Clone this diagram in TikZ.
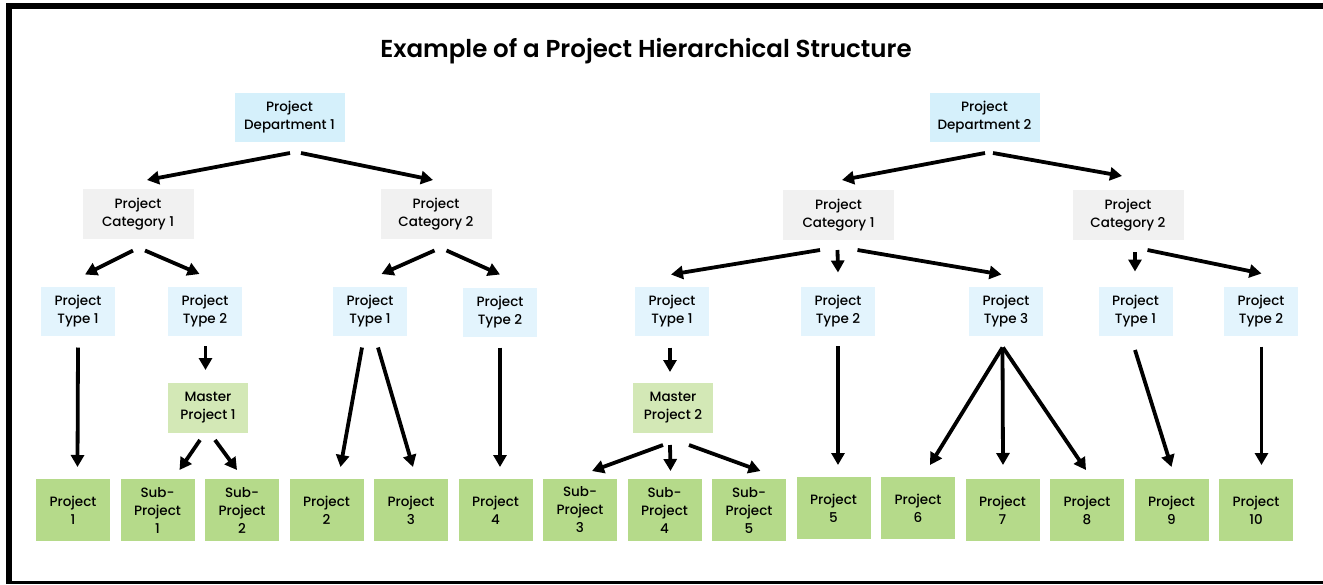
\documentclass[tikz,border=0pt]{standalone}
\usepackage{fontspec}
\setmainfont{Poppins Medium}
\newfontfamily\titlefont{Poppins SemiBold}
\usetikzlibrary{arrows.meta,positioning}
\definecolor{deptblue}{HTML}{D5F0FB}
\definecolor{typeblue}{HTML}{E3F4FD}
\definecolor{catgray}{HTML}{F1F1F1}
\definecolor{mastergreen}{HTML}{D3E8B6}
\definecolor{projgreen}{HTML}{B5DA8A}
\tikzstyle{cell}=[rectangle,inner sep=0pt,outer sep=0pt,align=center,font=\fontsize{13.5}{18}\selectfont]
\tikzstyle{dept}=[cell,fill=deptblue,minimum width=110pt,minimum height=49pt]
\tikzstyle{category}=[cell,fill=catgray,minimum width=111pt,minimum height=50pt]
\tikzstyle{ptype}=[cell,fill=typeblue,minimum width=74pt,minimum height=49pt]
\tikzstyle{master}=[cell,fill=mastergreen,minimum width=80pt,minimum height=50pt]
\tikzstyle{proj}=[cell,fill=projgreen,minimum width=74pt,minimum height=62pt]
\tikzstyle{arr}=[line width=3.8pt,-{Triangle[length=12pt,width=13pt]}]
\begin{document}
\begin{tikzpicture}[x=1pt,y=-1pt]
            \useasboundingbox (0,0) rectangle (1323,584);
            % frame
            \fill (6,3) rectangle (12,584);
            \fill (6,3) rectangle (1323,9);
            \fill (6,581) rectangle (1323,584);

            \node[font=\fontsize{24.5}{28}\titlefont] (title) at (646,51) {Example of a Project Hierarchical Structure};

            % DEPARTMENT 1 PART

            \node[dept] (d1) at (289.5,117.5) {Project\\Department 1};
            \node[category] (c1) at (138,214) {Project\\Category 1};
            \node[category] (c2) at (436,214) {Project\\Category 2};
            \node[ptype] (t1) at (78,311) {Project\\Type 1};
            \node[ptype] (t2) at (205,311) {Project\\Type 2};
            \node[ptype] (t3) at (370,311) {Project\\Type 1};
            \node[ptype] (t4) at (500,312) {Project\\Type 2};
            \node[master] (m1) at (208,408) {Master\\Project 1};

            \node[proj] (p1) at (73,510) {Project\\1};
            \node[proj, right=10.5pt of p1] (s1) {Sub-\\Project\\1};
            \node[proj, right=10.5pt of s1] (s2) {Sub-\\Project\\2};
            \node[proj, right=10.5pt of s2] (p2) {Project\\2};
            \node[proj, right=10.5pt of p2] (p3) {Project\\3};
            \node[proj, right=10.5pt of p3] (p4) {Project\\4};

            \path[arr] ([xshift=0.5pt,yshift=-11pt]d1.south) edge ([xshift=9pt,yshift=9pt]c1.north);
            \path[arr] ([xshift=11.5pt,yshift=-11pt]d1.south) edge ([xshift=-3pt,yshift=9pt]c2.north);
            \path[arr] ([xshift=-5pt,yshift=-11.5pt]c1.south) edge ([xshift=7pt,yshift=12pt]t1.north);
            \path[arr] ([xshift=7pt,yshift=-11.5pt]c1.south) edge ([xshift=-5.5pt,yshift=12.5pt]t2.north);
            \path[arr] ([xshift=-1.5pt,yshift=-11.5pt]c2.south) edge ([xshift=11.5pt,yshift=12.5pt]t3.north);
            \path[arr] ([xshift=10.5pt,yshift=-11.5pt]c2.south) edge ([yshift=13pt]t4.north);
            \path[arr] ([yshift=-12pt]t1.south) edge ([xshift=4.5pt,yshift=12pt]p1.north);
            \path[arr] ([xshift=0.5pt,yshift=-10.5pt]t2.south) edge ([xshift=-2.5pt,yshift=13pt]m1.north);
            \path[arr] ([xshift=-8pt,yshift=-7pt]m1.south) edge ([xshift=22pt,yshift=9pt]s1.north);
            \path[arr] ([xshift=7pt,yshift=-7pt]m1.south) edge ([xshift=-5pt,yshift=9pt]s2.north);
            \path[arr] ([xshift=-8pt,yshift=-12pt]t3.south) edge ([xshift=14pt,yshift=12pt]p2.north);
            \path[arr] ([xshift=8pt,yshift=-12pt]t3.south) edge ([xshift=2pt,yshift=12pt]p3.north);
            \path[arr] ([yshift=-11pt]t4.south) edge ([xshift=4.5pt,yshift=12pt]p4.north);

            % DEPARTMENT 2 PART

            \node[dept] (d2) at (984.5,117.5) {Project\\Department 2};
            \node[category] (c3) at (838.5,215) {Project\\Category 1};
            \node[category] (c4) at (1128,215) {Project\\Category 2};
            \node[ptype] (t5) at (672,311) {Project\\Type 1};
            \node[ptype] (t6) at (838,311) {Project\\Type 2};
            \node[ptype] (t7) at (1006,311) {Project\\Type 3};
            \node[ptype] (t8) at (1135.5,311) {Project\\Type 1};
            \node[ptype] (t9) at (1261,311) {Project\\Type 2};
            \node[master] (m2) at (673,408) {Master\\Project 2};

            \node[proj, right=10.5pt of p4] (s3) {Sub-\\Project\\3};
            \node[proj, right=10.5pt of s3] (s4) {Sub-\\Project\\4};
            \node[proj, right=10.5pt of s4] (s5) {Sub-\\Project\\5};
            \node[proj, right=10.5pt of s5, yshift=2pt] (p5) {Project\\5};
            \node[proj, right=10.5pt of p5] (p6) {Project\\6};
            \node[proj, right=10.5pt of p6, yshift=-2pt] (p7) {Project\\7};
            \node[proj, right=10.5pt of p7] (p8) {Project\\8};
            \node[proj, right=10.5pt of p8] (p9) {Project\\9};
            \node[proj, right=10.5pt of p9] (p10) {Project\\10};

            \path[arr] ([xshift=0.5pt,yshift=-11pt]d2.south) edge ([xshift=3.5pt,yshift=10pt]c3.north);
            \path[arr] ([xshift=8.5pt,yshift=-11pt]d2.south) edge ([xshift=-6pt,yshift=14pt]c4.north);
            \path[arr] ([xshift=-18.5pt,yshift=-10pt]c3.south) edge ([xshift=-1pt,yshift=12pt]t5.north);
            \path[arr] ([xshift=-1pt,yshift=-10pt]c3.south) edge ([yshift=14pt]t6.north);
            \path[arr] ([xshift=19pt,yshift=-10pt]c3.south) edge ([xshift=-4.5pt,yshift=12pt]t7.north);
            \path[arr] ([xshift=7pt,yshift=-12pt]c4.south) edge ([xshift=-0.5pt,yshift=15pt]t8.north);
            \path[arr] ([xshift=19.5pt,yshift=-10pt]c4.south) edge ([xshift=0.5pt,yshift=13pt]t9.north);
            \path[arr] ([xshift=-2pt,yshift=-12pt]t5.south) edge ([xshift=-3pt,yshift=11pt]m2.north);
            \path[arr] ([xshift=-10pt,yshift=-12pt]m2.south) edge ([xshift=12pt,yshift=8pt]s3.north);
            \path[arr] ([xshift=-3pt,yshift=-12pt]m2.south) edge ([xshift=6pt,yshift=8pt]s4.north);
            \path[arr] ([xshift=16pt,yshift=-12pt]m2.south) edge ([xshift=11.5pt,yshift=8pt]s5.north);
            \path[arr] ([yshift=-10.5pt]t6.south) edge ([xshift=4.5pt,yshift=12pt]p5.north);
            \path[arr] ([xshift=-3.5pt,yshift=-12pt]t7.south) edge ([xshift=12pt,yshift=12pt]p6.north);
            \path[arr] ([xshift=-3.5pt,yshift=-12pt]t7.south) edge ([xshift=0.5pt,yshift=14pt]p7.north);
            \path[arr] ([xshift=-3pt,yshift=-12pt]t7.south) edge ([xshift=-1pt,yshift=9pt]p8.north);
            \path[arr] ([xshift=-0.5pt,yshift=-14.5pt]t8.south) edge ([yshift=12pt]p9.north);
            \path[arr] ([xshift=0.5pt,yshift=-11pt]t9.south) edge ([xshift=5.5pt,yshift=14pt]p10.north);

\end{tikzpicture}
\end{document}
